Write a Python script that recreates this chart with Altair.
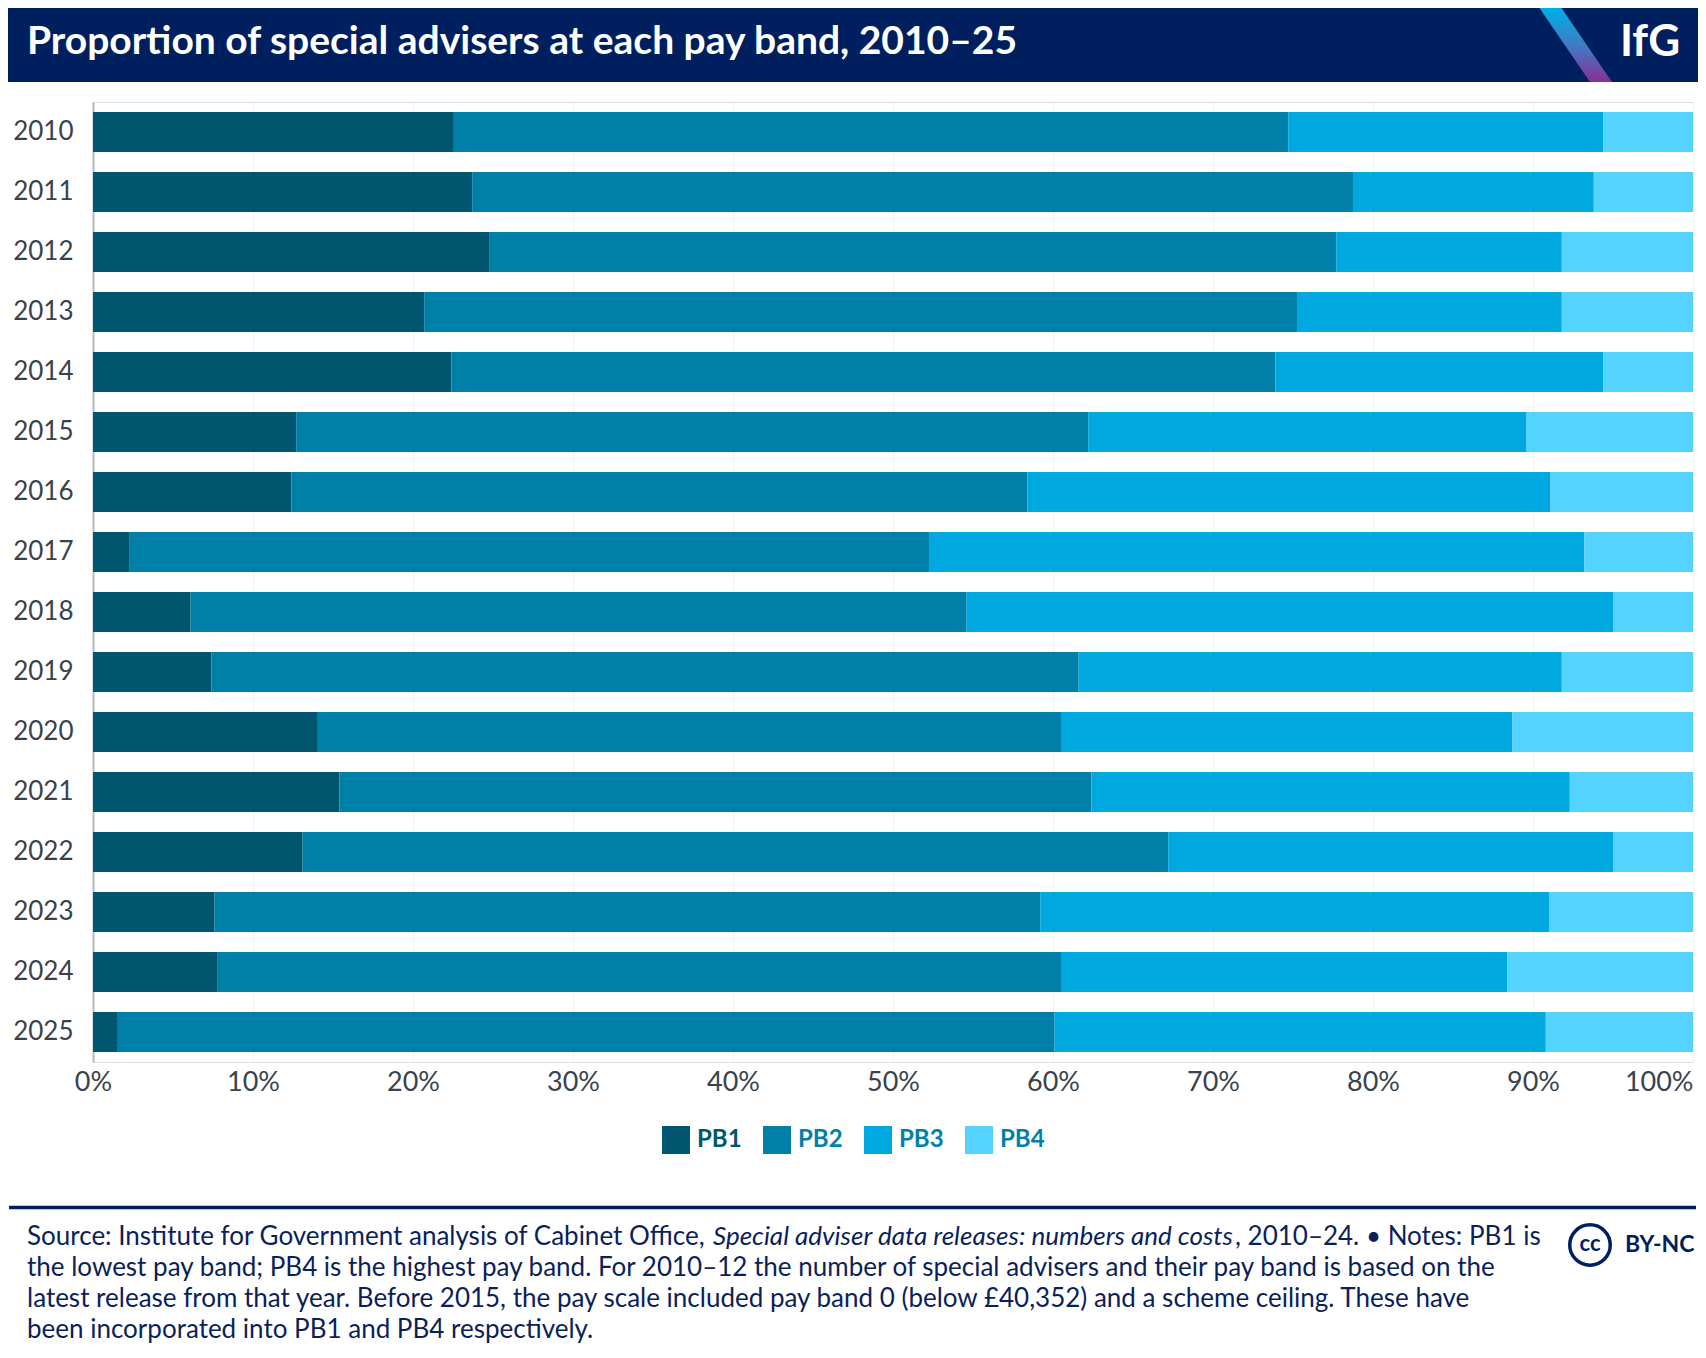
import altair as alt
import pandas as pd

years = [2010, 2011, 2012, 2013, 2014, 2015, 2016, 2017, 2018, 2019, 2020, 2021, 2022, 2023, 2024, 2025]
bands = ["PB1", "PB2", "PB3", "PB4"]
pb1 = [22.5, 23.7, 24.8, 20.7, 22.4, 12.7, 12.4, 2.3, 6.1, 7.4, 14.0, 15.4, 13.1, 7.6, 7.8, 1.5]
pb2 = [52.2, 55.1, 52.9, 54.6, 51.5, 49.5, 46.0, 50.0, 48.5, 54.2, 46.5, 47.0, 54.1, 51.6, 52.7, 58.6]
pb3 = [19.7, 15.0, 14.1, 16.5, 20.5, 27.4, 32.7, 40.9, 40.4, 30.2, 28.2, 29.9, 27.8, 31.8, 27.9, 30.7]
pb4 = [5.6, 6.2, 8.2, 8.2, 5.6, 10.4, 8.9, 6.8, 5.0, 8.2, 11.3, 7.7, 5.0, 9.0, 11.6, 9.2]
colors = ["#00566e", "#007fa8", "#00a8e0", "#55d3ff"]
x_ticks = [0, 10, 20, 30, 40, 50, 60, 70, 80, 90, 100]

title_text = "Proportion of special advisers at each pay band, 2010–25"
foot1a = "Source: Institute for Government analysis of Cabinet Office, "
foot1b = "Special adviser data releases: numbers and costs"
foot1c = ", 2010–24. • Notes: PB1 is"
foot2 = "the lowest pay band; PB4 is the highest pay band. For 2010–12 the number of special advisers and their pay band is based on the"
foot3 = "latest release from that year. Before 2015, the pay scale included pay band 0 (below £40,352) and a scheme ceiling. These have"
foot4 = "been incorporated into PB1 and PB4 respectively."

rows = []
for i, y in enumerate(years):
    for b, vals in zip(bands, [pb1, pb2, pb3, pb4]):
        rows.append({"year": str(y), "band": b, "share": vals[i], "ord": bands.index(b)})
df = pd.DataFrame(rows)

NAVY = "#001f5f"
FONT = "Lato"
one = pd.DataFrame({"a": [0]})

bars = alt.Chart(df).mark_bar(stroke=None).encode(
    y=alt.Y("year:O", title=None, sort=[str(y) for y in years],
            scale=alt.Scale(paddingInner=1/3, paddingOuter=1/6),
            axis=alt.Axis(labelFont=FONT, labelFontSize=26, labelColor="#3a424b",
                          labelPadding=20, ticks=False, domain=True,
                          domainColor="#b4b7bb", domainWidth=2, grid=False)),
    x=alt.X("share:Q", title=None, stack="zero",
            scale=alt.Scale(domain=[0, 100], nice=False),
            axis=alt.Axis(values=x_ticks, labelExpr="datum.value + '%'",
                          labelFont=FONT, labelFontSize=27, labelColor="#3a424b",
                          labelPadding=7, ticks=False, tickSize=0, domain=False,
                          grid=True, gridColor="#f2f2f2", gridWidth=1,
                          labelAlign=alt.expr("datum.value == 100 ? 'right' : 'center'"),
                          labelFlush=False)),
    color=alt.Color("band:N", sort=bands,
                    scale=alt.Scale(domain=bands, range=colors),
                    legend=alt.Legend(orient="none", legendX=569, legendY=1024,
                                      direction="horizontal", title=None,
                                      symbolType="square", symbolSize=784,
                                      symbolStrokeWidth=0, symbolOpacity=1,
                                      labelFont=FONT, labelFontSize=24,
                                      labelFontWeight="bold", labelOffset=7,
                                      columnPadding=21, padding=0,
                                      labelColor=alt.expr("datum.label == 'PB1' ? '#00566e' : '#0080aa'"))),
    order=alt.Order("ord:Q", sort="ascending"),
)

header = alt.Chart(one).mark_rect(color=NAVY).encode(
    x=alt.value(-85), x2=alt.value(1605), y=alt.value(-94), y2=alt.value(-20))

title = alt.Chart(one).mark_text(font=FONT, fontSize=39, fontWeight="bold", color="white",
                                 align="left", baseline="alphabetic").encode(
    x=alt.value(-66), y=alt.value(-48), text=alt.value(title_text))

stripe = alt.Chart(one).mark_point(
    shape="M-0.98,-1L-0.385,-1L0.98,1L0.385,1Z", filled=True, size=5476, opacity=1,
    strokeWidth=0,
    fill=alt.LinearGradient(gradient="linear", x1=0, y1=0, x2=0, y2=1,
                            stops=[alt.GradientStop(color="#00aee6", offset=0),
                                   alt.GradientStop(color="#3f7cc6", offset=0.5),
                                   alt.GradientStop(color="#8a2e96", offset=1)])
).encode(x=alt.value(1575.75 - 93), y=alt.value(45 - 102))

ifg = alt.Chart(one).mark_text(font=FONT, fontSize=44, fontWeight="bold", color="white",
                               align="left", baseline="alphabetic").encode(
    x=alt.value(1527), y=alt.value(-46), text=alt.value("IfG"))

foot_rule = alt.Chart(one).mark_rule(color=NAVY, strokeWidth=3.5).encode(
    x=alt.value(-84), x2=alt.value(1603), y=alt.value(1105.6))

def ftext(txt, x, y, italic=False):
    return alt.Chart(one).mark_text(font=FONT, fontSize=26, color="#0b1f5c", align="left",
                                    baseline="alphabetic",
                                    fontStyle="italic" if italic else "normal").encode(
        x=alt.value(x), y=alt.value(y), text=alt.value(txt))

f1a = ftext(foot1a, -66, 1143)
f1b = ftext(foot1b, 620, 1143, italic=True)
f1c = ftext(foot1c, 1142, 1143)
f2 = ftext(foot2, -66, 1174)
f3 = ftext(foot3, -66, 1205)
f4 = ftext(foot4, -66, 1236)

cc_circle = alt.Chart(one).mark_point(shape="circle", size=1640, filled=False, opacity=1,
                                      color=NAVY, strokeWidth=3.5).encode(
    x=alt.value(1590 - 93), y=alt.value(1245 - 102))
cc_text = alt.Chart(one).mark_text(font=FONT, fontSize=22, fontWeight="bold", color=NAVY,
                                   align="center", baseline="middle").encode(
    x=alt.value(1590 - 93), y=alt.value(1244 - 102), text=alt.value("cc"))
by_text = alt.Chart(one).mark_text(font=FONT, fontSize=23, fontWeight="bold", color=NAVY,
                                   align="left", baseline="middle").encode(
    x=alt.value(1625 - 93), y=alt.value(1245 - 102), text=alt.value("BY-NC"))

chart = alt.layer(
    bars, header, stripe, title, ifg, foot_rule, f1a, f1b, f1c, f2, f3, f4,
    cc_circle, cc_text, by_text
).properties(
    width=1600, height=960,
    autosize=alt.AutoSizeParams(type="none"),
    padding={"left": 85, "top": 94, "right": 5, "bottom": 288},
).configure_view(stroke=None).configure(background="white")

chart.save("out.html", embed_options={"renderer": "svg", "actions": False})
